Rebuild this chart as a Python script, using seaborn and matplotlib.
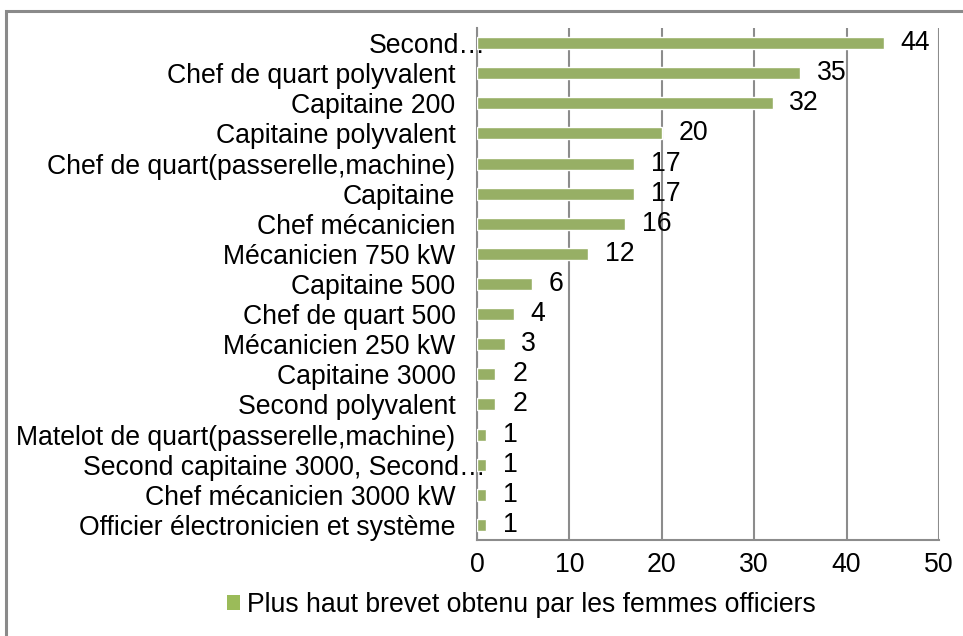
import matplotlib
matplotlib.use("Agg")
import matplotlib.pyplot as plt
import matplotlib.transforms as mtransforms
from matplotlib.patches import Rectangle
import seaborn as sns
import pandas as pd

categories = [
    "Second…",
    "Chef de quart polyvalent",
    "Capitaine 200",
    "Capitaine polyvalent",
    "Chef de quart(passerelle,machine)",
    "Capitaine",
    "Chef mécanicien",
    "Mécanicien 750 kW",
    "Capitaine 500",
    "Chef de quart 500",
    "Mécanicien 250 kW",
    "Capitaine 3000",
    "Second polyvalent",
    "Matelot de quart(passerelle,machine)",
    "Second capitaine 3000, Second…",
    "Chef mécanicien 3000 kW",
    "Officier électronicien et système",
]
values = [44, 35, 32, 20, 17, 17, 16, 12, 6, 4, 3, 2, 2, 1, 1, 1, 1]
series_name = "Plus haut brevet obtenu par les femmes officiers"
x_ticks = [0, 10, 20, 30, 40, 50]

df = pd.DataFrame({"brevet": categories, "n": values, "serie": series_name})

sns.set_style("white")
plt.rcParams["font.family"] = ["Liberation Sans", "DejaVu Sans"]
plt.rcParams["text.color"] = "black"
plt.rcParams["xtick.color"] = "black"
plt.rcParams["ytick.color"] = "black"

BAR = "#9BBB59"
GRID = "#8C8C8C"
FS = 19.2

fig = plt.figure(figsize=(9.63, 6.36), dpi=100)
ax = fig.add_axes([477 / 963, 1 - 540 / 636, (939 - 477) / 963, (540 - 28) / 636])

sns.barplot(data=df, x="n", y="brevet", hue="serie", palette=[BAR],
            width=0.4, orient="h", ax=ax, legend=False, zorder=3)

ax.set_xlim(0, 50)
ax.set_ylim(len(categories) - 0.5, -0.5)
ax.set_xticks(x_ticks)
ax.set_xticklabels([str(t) for t in x_ticks], fontsize=FS, color="black")
ax.set_xlabel("")
ax.set_ylabel("")

ax.xaxis.grid(True, color=GRID, linewidth=1.5, zorder=0)
ax.yaxis.grid(False)
for s in ["top", "right"]:
    ax.spines[s].set_visible(False)
for s in ["left", "bottom"]:
    ax.spines[s].set_color(GRID)
    ax.spines[s].set_linewidth(1.5)

ax.tick_params(axis="x", direction="out", length=4, width=1.5, color=GRID, pad=5,
               labelcolor="black")
ax.tick_params(axis="y", which="major", length=0, pad=15.5, labelsize=FS,
               labelcolor="black")
ax.set_yticks([i - 0.5 for i in range(len(categories) + 1)], minor=True)
ax.tick_params(axis="y", which="minor", direction="out", length=5, width=1.5, color=GRID)

# truncated labels sit further right, against the axis
for lbl in ax.get_yticklabels():
    if lbl.get_text().endswith("…"):
        lbl.set_transform(lbl.get_transform() +
                          mtransforms.ScaledTranslation(30 / 100, 0, fig.dpi_scale_trans))

for cont in ax.containers:
    ax.bar_label(cont, labels=[str(v) for v in values], padding=12, fontsize=FS,
                 color="black")

# legend below the axis
handle = Rectangle((0, 0), 1, 1, facecolor=BAR, edgecolor="none")
leg = fig.legend([handle], [series_name], loc="center", bbox_to_anchor=(0.541, 1 - 605 / 636),
                 frameon=False, fontsize=FS, handlelength=0.5, handleheight=0.5,
                 handletextpad=0.25, borderpad=0)
for t in leg.get_texts():
    t.set_color("black")

# chart-area frame
fig.patches.append(Rectangle((6 / 963, -0.1), 1.1, 1 - 11 / 636 + 0.1,
                             transform=fig.transFigure, fill=False,
                             edgecolor="#8A8A8A", linewidth=2.2))

fig.savefig("out.png", dpi=100)
